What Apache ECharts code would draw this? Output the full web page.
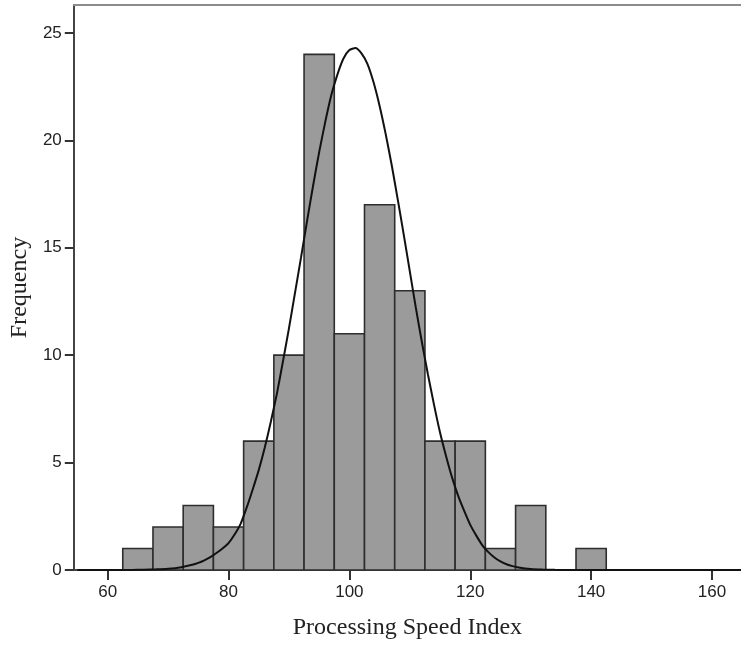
<!DOCTYPE html>
<html>
<head>
<meta charset="utf-8">
<script src="https://cdn.jsdelivr.net/npm/echarts@6/dist/echarts.min.js"></script>
<style>
html,body{margin:0;padding:0;background:#fff;}
#chart{width:741px;height:654px;}
</style>
</head>
<body>
<div id="chart"></div>
<script>
// Histogram bins (lower edge, upper edge) and frequencies
const binLow  = [62.5, 67.5, 72.5, 77.5, 82.5, 87.5, 92.5, 97.5, 102.5, 107.5, 112.5, 117.5, 122.5, 127.5, 132.5, 137.5];
const binHigh = [67.5, 72.5, 77.5, 82.5, 87.5, 92.5, 97.5, 102.5, 107.5, 112.5, 117.5, 122.5, 127.5, 132.5, 137.5, 142.5];
const counts  = [1, 2, 3, 2, 6, 10, 24, 11, 17, 13, 6, 6, 1, 3, 0, 1];

// Normal curve points
const curveX = [55, 60, 62, 64, 66, 68, 70, 72, 74, 75, 76, 77, 78, 79, 80, 81, 82, 83, 84, 85, 86, 87, 88, 89, 90, 91, 92, 93, 94, 95, 96, 97, 98, 99, 100, 101, 102, 103, 104, 105, 106, 107, 108, 109, 110, 111, 112, 113, 114, 115, 116, 117, 118, 119, 120, 121, 122, 123, 124, 125, 126, 127, 128, 130, 132, 134, 136, 138, 165];
const curveY = [0, 0, 0.002, 0.005, 0.012, 0.03, 0.06, 0.12, 0.24, 0.33, 0.45, 0.6, 0.79, 1.0, 1.25, 1.65, 2.15, 2.9, 3.75, 4.65, 5.7, 6.9, 8.2, 9.7, 11.25, 12.9, 14.55, 16.25, 17.9, 19.45, 20.85, 22.1, 23.05, 23.8, 24.2, 24.3, 24.05, 23.55, 22.7, 21.6, 20.3, 18.85, 17.25, 15.6, 13.9, 12.2, 10.6, 9.1, 7.7, 6.4, 5.3, 4.3, 3.45, 2.75, 2.1, 1.6, 1.15, 0.83, 0.58, 0.4, 0.27, 0.18, 0.12, 0.05, 0.02, 0.007, 0.002, 0, 0];

// Tick labels
const xTicks = [60, 80, 100, 120, 140, 160];
const yTicks = [0, 5, 10, 15, 20, 25];

const xTitle = 'Processing Speed Index';
const yTitle = 'Frequency';

const barData = [];
for (let i = 0; i < counts.length; i++) {
  if (counts[i] > 0) barData.push([binLow[i], binHigh[i], counts[i]]);
}
const lineData = curveX.map((x, i) => [x, curveY[i]]);

const chart = echarts.init(document.getElementById('chart'), null, {renderer: 'canvas'});
const labelFont = {color: '#222', fontFamily: 'Liberation Sans, Arial, sans-serif', fontSize: 17};

chart.setOption({
  animation: false,
  backgroundColor: '#fff',
  grid: {left: 73, right: 0, top: 5, bottom: 84, containLabel: false},
  xAxis: [{
    type: 'value', min: 54.4, max: 164.8, position: 'bottom',
    name: xTitle, nameLocation: 'middle', nameGap: 46,
    nameTextStyle: {color: '#222', fontFamily: 'Liberation Serif, Times New Roman, serif', fontSize: 24},
    axisLine: {show: true, onZero: false, lineStyle: {color: '#444', width: 2}},
    axisTick: {show: true, length: 10, lineStyle: {color: '#333', width: 2}, customValues: xTicks},
    axisLabel: Object.assign({margin: 14, customValues: xTicks}, labelFont),
    splitLine: {show: false}
  }, {
    type: 'value', min: 54.4, max: 164.8, position: 'top',
    axisLine: {show: true, onZero: false, lineStyle: {color: '#8c8c8c', width: 2}},
    axisTick: {show: false}, axisLabel: {show: false}, splitLine: {show: false}
  }],
  yAxis: {
    type: 'value', min: 0, max: 26.3,
    name: yTitle, nameLocation: 'middle', nameGap: 38, nameRotate: 90,
    nameTextStyle: {color: '#222', fontFamily: 'Liberation Serif, Times New Roman, serif', fontSize: 24},
    axisLine: {show: true, onZero: false, lineStyle: {color: '#444', width: 2}},
    axisTick: {show: true, length: 9, lineStyle: {color: '#333', width: 2}, customValues: yTicks},
    axisLabel: Object.assign({margin: 12, customValues: yTicks}, labelFont),
    splitLine: {show: false}
  },
  series: [{
    type: 'custom',
    xAxisIndex: 0,
    data: barData,
    encode: {x: [0, 1], y: 2},
    renderItem: function (params, api) {
      const p0 = api.coord([api.value(0), 0]);
      const p1 = api.coord([api.value(1), api.value(2)]);
      return {
        type: 'rect',
        shape: {x: p0[0], y: p1[1], width: p1[0] - p0[0], height: p0[1] - p1[1]},
        style: {fill: '#9b9b9b', stroke: '#2e2e2e', lineWidth: 1.6}
      };
    },
    z: 2
  }, {
    type: 'line',
    xAxisIndex: 0,
    data: lineData,
    showSymbol: false,
    smooth: 0.2,
    lineStyle: {color: '#111', width: 2},
    z: 3
  }]
});
</script>
</body>
</html>
